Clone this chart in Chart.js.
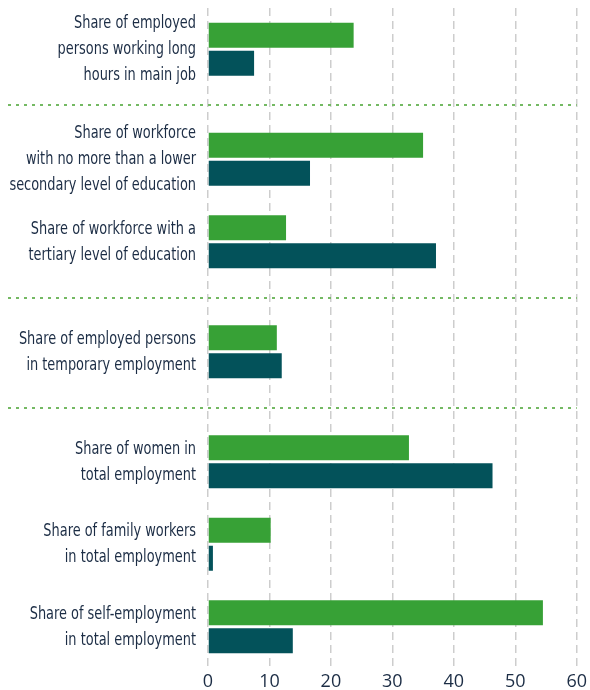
<!DOCTYPE html>
<html lang="en">
<head>
    <meta charset="UTF-8">
    <title>Employment indicators</title>
    <script src="https://cdn.jsdelivr.net/npm/chart.js"></script>
    <style>
        body { margin: 0; background: #ffffff; }
        #chartBox { width: 590px; height: 690px; position: relative; }
    </style>
</head>
<body>
    <div id="chartBox">
        <canvas id="indicadoresChart"></canvas>
    </div>

    <script>
        // Categories, the group each belongs to, and the two series
        const categories = [
            ['Share of employed', 'persons working long', 'hours in main job'],
            ['Share of workforce', 'with no more than a lower', 'secondary level of education'],
            ['Share of workforce with a', 'tertiary level of education'],
            ['Share of employed persons', 'in temporary employment'],
            ['Share of women in', 'total employment'],
            ['Share of family workers', 'in total employment'],
            ['Share of self-employment', 'in total employment']
        ];
        const groups = [1, 2, 2, 3, 4, 4, 4];
        const greenValues = [23.7, 35.0, 12.7, 11.2, 32.7, 10.2, 54.5];
        const tealValues = [7.5, 16.6, 37.1, 12.0, 46.3, 0.8, 13.8];
        const xTicks = [0, 10, 20, 30, 40, 50, 60];

        // Every category takes three slots, one extra empty slot between groups
        const slotLabels = [];
        const slotGreen = [];
        const slotTeal = [];
        const gapSlots = [];
        categories.forEach((cat, i) => {
            if (i > 0 && groups[i] !== groups[i - 1]) {
                gapSlots.push(slotLabels.length);
                slotLabels.push('');
                slotGreen.push(null);
                slotTeal.push(null);
            }
            slotLabels.push('', cat, '');
            slotGreen.push(null, greenValues[i], null);
            slotTeal.push(null, tealValues[i], null);
        });

        // Dotted separators between the groups
        const separadores = {
            id: 'separadores',
            beforeDatasetsDraw(chart) {
                const ctx = chart.ctx;
                const y = chart.scales.y;
                ctx.save();
                ctx.strokeStyle = '#74b963';
                ctx.lineWidth = 2;
                ctx.setLineDash([3, 5]);
                gapSlots.forEach(idx => {
                    const py = Math.round(y.getPixelForValue(idx)) + 1;
                    ctx.beginPath();
                    ctx.moveTo(8, py);
                    ctx.lineTo(chart.chartArea.right, py);
                    ctx.stroke();
                });
                ctx.restore();
            }
        };

        // Category labels in a condensed face (narrowed DejaVu Sans Condensed)
        const etiquetas = {
            id: 'etiquetas',
            afterDraw(chart) {
                const ctx = chart.ctx;
                const y = chart.scales.y;
                const lineH = 26;
                ctx.save();
                ctx.font = '17px "DejaVu Sans Condensed", sans-serif';
                ctx.fillStyle = '#1c2d45';
                ctx.textAlign = 'right';
                ctx.textBaseline = 'middle';
                slotLabels.forEach((lab, idx) => {
                    if (!Array.isArray(lab)) return;
                    const cy = y.getPixelForValue(idx) + 0.5;
                    lab.forEach((line, k) => {
                        const py = cy + (k - (lab.length - 1) / 2) * lineH;
                        ctx.save();
                        ctx.translate(chart.chartArea.left - 12, py);
                        ctx.scale(0.845, 1);
                        ctx.fillText(line, 0, 0);
                        ctx.restore();
                    });
                });
                ctx.restore();
            }
        };

        const ctx = document.getElementById('indicadoresChart').getContext('2d');
        new Chart(ctx, {
            type: 'bar',
            data: {
                labels: slotLabels,
                datasets: [{
                    label: 'Series 1',
                    data: slotGreen,
                    backgroundColor: '#37a136',
                    categoryPercentage: 2.03,
                    barPercentage: 0.893
                }, {
                    label: 'Series 2',
                    data: slotTeal,
                    backgroundColor: '#03525a',
                    categoryPercentage: 2.03,
                    barPercentage: 0.893
                }]
            },
            options: {
                indexAxis: 'y',
                responsive: true,
                maintainAspectRatio: false,
                animation: false,
                layout: { padding: { top: 8, right: 13, bottom: 0, left: 0 } },
                plugins: {
                    legend: { display: false },
                    tooltip: { enabled: false }
                },
                scales: {
                    x: {
                        min: 0,
                        max: 60,
                        afterBuildTicks: scale => { scale.ticks = xTicks.map(v => ({ value: v })); },
                        afterFit: scale => { scale.height = 22; },
                        grid: {
                            color: '#cdcdcd',
                            lineWidth: 1.5,
                            drawTicks: false
                        },
                        border: { display: false, dash: [8, 5] },
                        ticks: {
                            padding: 3,
                            color: '#1c2d45',
                            font: { family: '"Open Sans", sans-serif', size: 18 }
                        }
                    },
                    y: {
                        afterFit: scale => { scale.width = 208; },
                        grid: { display: false },
                        border: { display: false },
                        ticks: { display: false, autoSkip: false }
                    }
                }
            },
            plugins: [separadores, etiquetas]
        });
    </script>
</body>
</html>
